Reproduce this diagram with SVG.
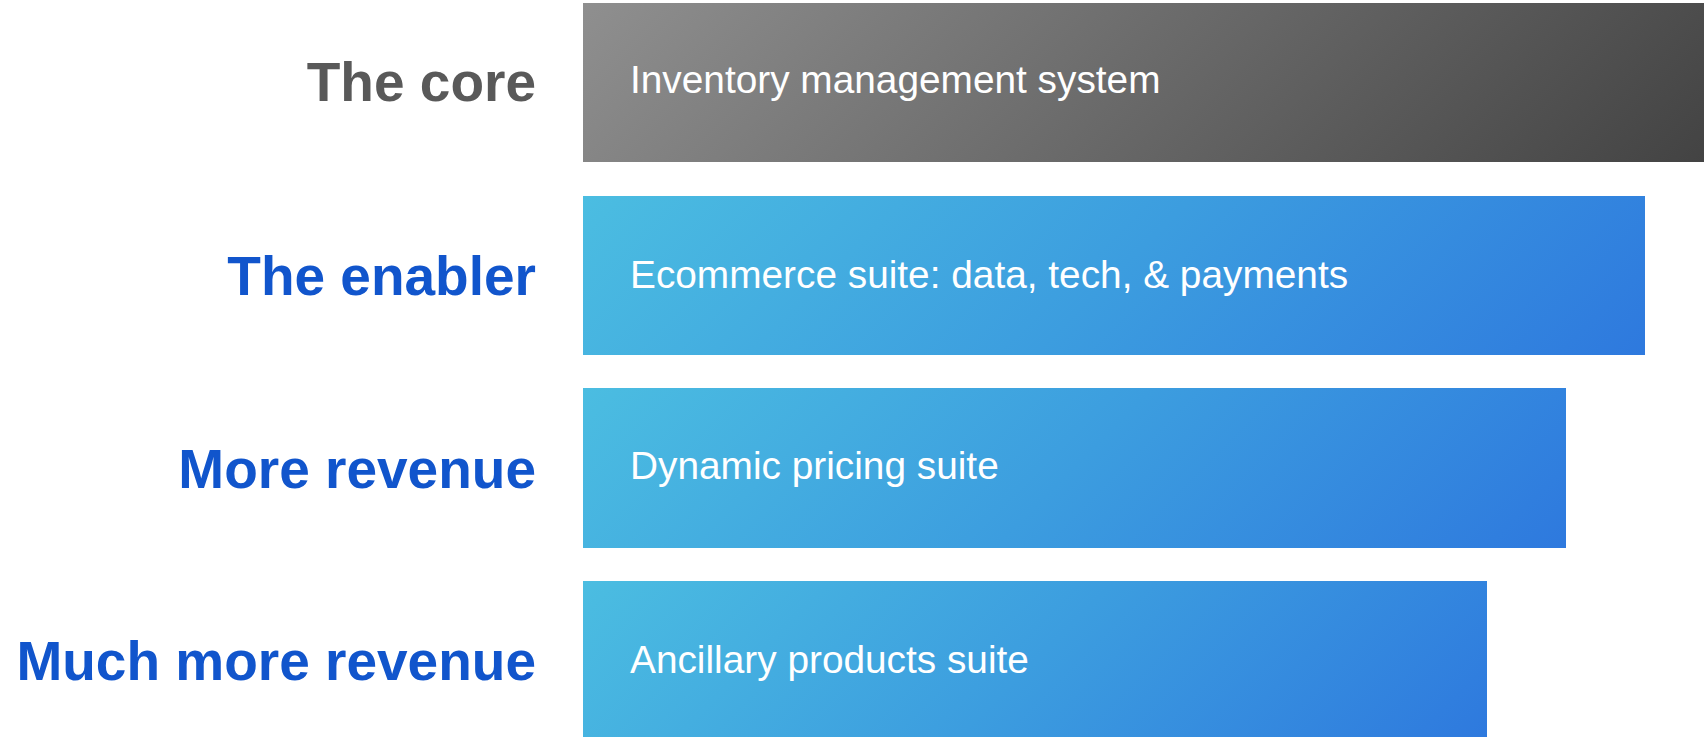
<svg xmlns="http://www.w3.org/2000/svg" width="1704" height="737" viewBox="0 0 1704 737">
  <defs>
    <!-- shared colour ramps; the per-bar gradients below run at 45 degrees in user space -->
    <linearGradient id="rampGrey">
      <stop offset="0" stop-color="#8f8f8f"/>
      <stop offset="1" stop-color="#434343"/>
    </linearGradient>
    <linearGradient id="rampBlue">
      <stop offset="0" stop-color="#4bbde1"/>
      <stop offset="0.5" stop-color="#3c9ddf"/>
      <stop offset="1" stop-color="#2e79de"/>
    </linearGradient>
    <linearGradient id="gradCore" href="#rampGrey" gradientUnits="userSpaceOnUse" x1="583" y1="3" x2="1223" y2="643"/>
    <linearGradient id="gradEnabler" href="#rampBlue" gradientUnits="userSpaceOnUse" x1="583" y1="196" x2="1193" y2="806"/>
    <linearGradient id="gradMore" href="#rampBlue" gradientUnits="userSpaceOnUse" x1="583" y1="388" x2="1154" y2="959"/>
    <linearGradient id="gradMuch" href="#rampBlue" gradientUnits="userSpaceOnUse" x1="583" y1="581" x2="1115" y2="1113"/>
    <style>
      .label { font-family: "Liberation Sans", Arial, sans-serif; font-weight: bold; font-size: 55px; text-anchor: end; }
      .grey { fill: #595959; }
      .blue { fill: #1155cc; }
      .bar-text { font-family: "Liberation Sans", Arial, sans-serif; font-size: 38.8px; fill: #ffffff; }
    </style>
  </defs>
  <rect width="1704" height="737" fill="#ffffff"/>

  <g id="connectors"/>

  <g id="tier-core">
    <rect x="583" y="3" width="1121" height="159" fill="url(#gradCore)"/>
    <text class="label grey" x="536" y="101">The core</text>
    <text class="bar-text" x="630" y="93">Inventory management system</text>
  </g>

  <g id="tier-enabler">
    <rect x="583" y="196" width="1062" height="159" fill="url(#gradEnabler)"/>
    <text class="label blue" x="536" y="295">The enabler</text>
    <text class="bar-text" x="630" y="288">Ecommerce suite: data, tech, &amp; payments</text>
  </g>

  <g id="tier-more-revenue">
    <rect x="583" y="388" width="983" height="160" fill="url(#gradMore)"/>
    <text class="label blue" x="536" y="488">More revenue</text>
    <text class="bar-text" x="630" y="479">Dynamic pricing suite</text>
  </g>

  <g id="tier-much-more-revenue">
    <rect x="583" y="581" width="904" height="160" fill="url(#gradMuch)"/>
    <text class="label blue" x="536" y="680">Much more revenue</text>
    <text class="bar-text" x="630" y="673">Ancillary products suite</text>
  </g>
</svg>
